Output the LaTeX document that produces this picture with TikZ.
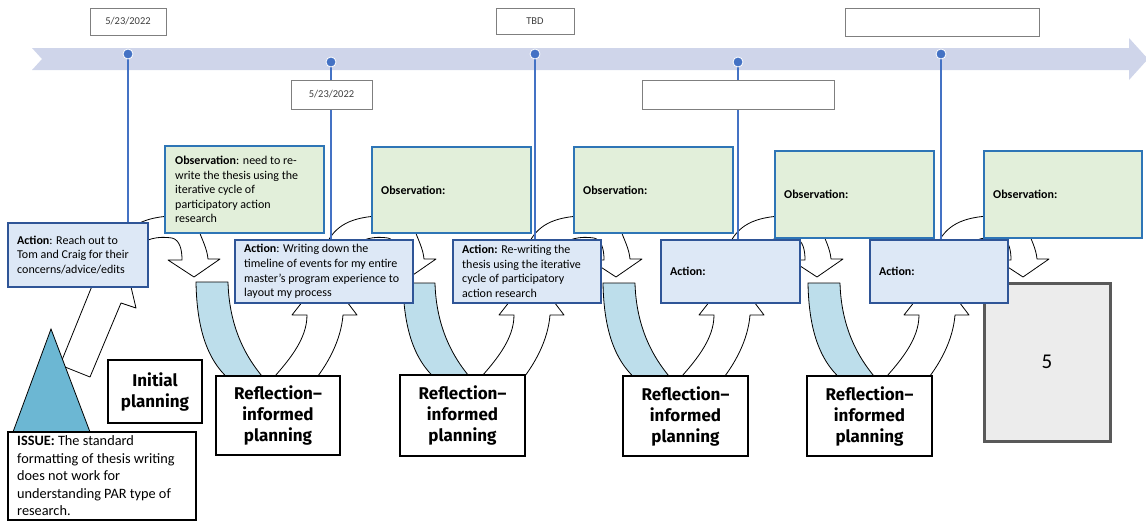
\documentclass[tikz,border=0pt]{standalone}
\usepackage{fontspec}
\setmainfont{Carlito}
\newfontfamily\reflfont{Fira Sans}
\pgfdeclarelayer{bg}
\pgfsetlayers{bg,main}

\definecolor{band}{RGB}{207,213,234}
\definecolor{tlblue}{RGB}{68,114,196}
\definecolor{obsfill}{RGB}{226,239,218}
\definecolor{obsline}{RGB}{46,117,182}
\definecolor{actfill}{RGB}{221,232,246}
\definecolor{actline}{RGB}{47,85,151}
\definecolor{arrowblue}{RGB}{189,222,235}
\definecolor{trifill}{RGB}{108,183,211}
\definecolor{greyfill}{RGB}{236,236,236}
\definecolor{greyline}{RGB}{89,89,89}
\definecolor{labelline}{RGB}{127,127,127}
\definecolor{labeltext}{RGB}{64,64,64}

% curved arrow heading down out of an observation, tip at x = #1
\newcommand\PARdown[1]{%
  \filldraw[blockarrow] ({#1-60},250) .. controls ({#1-50},238) and ({#1-35},236) .. ({#1-22},238)
    .. controls ({#1-14},240) and ({#1-12},250) .. ({#1-12},260) -- ({#1-26},260) -- (#1,277)
    -- ({#1+26},259) -- ({#1+14},259) .. controls ({#1+13},248) and ({#1+8},240) .. ({#1+4},228);}
% arc rising from an action into the observation whose left edge is at x = #1
\newcommand\PARarc[1]{%
  \draw[arrowedge] ({#1-48},250) .. controls ({#1-40},228) and ({#1-25},218) .. ({#1+5},216);}
% blue reflection arrow, top left corner at (#1,#2)
\newcommand\PARblue[2]{%
  \filldraw[reflarrow] (#1,#2) -- ({#1+32},#2) .. controls ({#1+33},320) and ({#1+45},355) .. ({#1+74},385)
    -- ({#1+40},385) .. controls ({#1+20},370) and ({#1+1},345) .. (#1,#2) -- cycle;}
% arrow rising from a planning box into the next action
\newcommand\PARup[1]{%
  \filldraw[blockarrow] ({#1+70},386) .. controls ({#1+92},362) and ({#1+111},340) .. ({#1+111},315)
    -- ({#1+96},315) -- ({#1+129},273) -- ({#1+161},315) -- ({#1+147},315)
    .. controls ({#1+145},340) and ({#1+132},365) .. ({#1+114},386) -- cycle;}

\begin{document}
\begin{tikzpicture}[x=1pt,y=-1pt,
  box/.style={inner sep=0pt, outer sep=0pt},
  obsbox/.style={box, draw=obsline, fill=obsfill, line width=2.2pt},
  actbox/.style={box, draw=actline, fill=actfill, line width=2.2pt},
  planbox/.style={box, draw=black, fill=white, line width=1.4pt, align=center,
    font=\reflfont\bfseries\fontsize{17}{21}\selectfont},
  issuebox/.style={box, draw=black, fill=white, line width=2.2pt},
  greybox/.style={box, draw=greyline, fill=greyfill, line width=3pt},
  datebox/.style={box, draw=labelline, fill=white, line width=1pt, text=labeltext,
    font=\fontsize{10.5}{12}\selectfont},
  boxtext/.style={inner sep=0pt, anchor=west, align=left, font=\fontsize{12}{14.6}\selectfont},
  tldot/.style={circle, fill=tlblue, draw=white, line width=0.8pt, minimum size=10pt, inner sep=0pt},
  tlline/.style={draw=tlblue, line width=1.2pt},
  blockarrow/.style={fill=white, draw=black, line width=0.8pt, line join=round},
  arrowedge/.style={draw=black, line width=0.8pt},
  reflarrow/.style={fill=arrowblue, draw=black, line width=0.8pt, line join=round}]

\useasboundingbox (0,0) rectangle (1146,522);

% date labels above and below the timeline
\node[datebox, minimum width=76pt, minimum height=27pt] (l1) at (128,21.5) {5/23/2022};
\node[datebox, minimum width=81pt, minimum height=29pt] (l2) at (331.5,94.5) {5/23/2022};
\node[datebox, minimum width=78pt, minimum height=26pt] (l3) at (535,21) {TBD};
\node[datebox, minimum width=192pt, minimum height=29pt] (l4) at (738,94.5) {};
\node[datebox, minimum width=194pt, minimum height=28pt] (l5) at (942,22) {};

% timeline markers
\node[tldot] (d1) at (128,54) {};
\node[tldot] (d2) at (331,62) {};
\node[tldot] (d3) at (535,54) {};
\node[tldot] (d4) at (738,62) {};
\node[tldot] (d5) at (941,54) {};

% observations
\node[obsbox, minimum width=159pt, minimum height=87pt] (o1) at (244.5,189.5) {};
\node[obsbox, minimum width=159pt, minimum height=86pt] (o2) at (451.5,190) {};
\node[obsbox, minimum width=159pt, minimum height=86pt] (o3) at (653.5,190) {};
\node[obsbox, minimum width=159pt, minimum height=87pt] (o4) at (854.5,194.5) {};
\node[obsbox, minimum width=158pt, minimum height=87pt] (o5) at (1063,194.5) {};
\node[boxtext] (o1t) at ([xshift=10pt]o1.west) {\textbf{Observation}: need to re-\\write the thesis using the\\iterative cycle of\\participatory action\\research};
\node[boxtext] (o2t) at ([xshift=9pt]o2.west) {\textbf{Observation:}};
\node[boxtext] (o3t) at ([xshift=9pt]o3.west) {\textbf{Observation:}};
\node[boxtext] (o4t) at ([xshift=9pt]o4.west) {\textbf{Observation:}};
\node[boxtext] (o5t) at ([xshift=9pt]o5.west) {\textbf{Observation:}};

% the issue that starts the cycle
\filldraw[fill=trifill, draw=black, line width=0.8pt] (51,329) -- (90,432) -- (13,432) -- cycle;
\node[issuebox, minimum width=188pt, minimum height=88pt] (issue) at (102,476) {};
\node[boxtext, font=\fontsize{14.3}{17.5}\selectfont] (issuet) at ([xshift=9pt]issue.west)
  {\textbf{ISSUE:} The standard\\formatting of thesis writing\\does not work for\\understanding PAR type of\\research.};

% planning stages
\node[planbox, minimum width=94pt, minimum height=63pt] (init) at (155,391.5) {Initial\\planning};
\node[planbox, minimum width=124pt, minimum height=79pt] (r1) at (278,415.5) {Reflection–\\informed\\planning};
\node[planbox, minimum width=125pt, minimum height=81pt] (r2) at (462.5,415.5) {Reflection–\\informed\\planning};
\node[planbox, minimum width=125pt, minimum height=80pt] (r3) at (685.5,416) {Reflection–\\informed\\planning};
\node[planbox, minimum width=125pt, minimum height=80pt] (r4) at (869.5,416) {Reflection–\\informed\\planning};
\node[greybox, minimum width=126pt, minimum height=158pt, font=\fontsize{21}{25}\selectfont] (g5) at (1047,362) {5};

% actions
\node[actbox, minimum width=140pt, minimum height=64pt] (a1) at (78,255) {};
\node[actbox, minimum width=178pt, minimum height=63pt] (a2) at (324,271.5) {};
\node[actbox, minimum width=148pt, minimum height=63pt] (a3) at (527,271.5) {};
\node[actbox, minimum width=139pt, minimum height=63pt] (a4) at (730.5,271.5) {};
\node[actbox, minimum width=138pt, minimum height=63pt] (a5) at (939,271.5) {};
\node[boxtext] (a1t) at ([xshift=9pt]a1.west) {\textbf{Action}: Reach out to\\Tom and Craig for their\\concerns/advice/edits};
\node[boxtext] (a2t) at ([xshift=9pt]a2.west) {\textbf{Action}: Writing down the\\timeline of events for my entire\\master's program experience to\\layout my process};
\node[boxtext] (a3t) at ([xshift=9pt]a3.west) {\textbf{Action:} Re-writing the\\thesis using the iterative\\cycle of participatory\\action research};
\node[boxtext] (a4t) at ([xshift=9pt]a4.west) {\textbf{Action:}};
\node[boxtext] (a5t) at ([xshift=9pt]a5.west) {\textbf{Action:}};

\begin{pgfonlayer}{bg}
  % timeline band
  \fill[band] (32,48) -- (1129,48) -- (1129,38) -- (1148,59) -- (1129,80) -- (1129,70)
    -- (32,70) -- (42,59) -- cycle;
  % first step: from the issue up to the first action
  \filldraw[blockarrow] (60,365) -- (90,377) -- (121,303) -- (136,308) -- (123,253)
    -- (78,280) -- (92,286) -- cycle;
  % the cycles of action, observation, reflection and planning
  \PARdown{194}  \PARdown{410}  \PARdown{616}  \PARdown{817}  \PARdown{1023}
  \PARarc{165}   \PARarc{372}   \PARarc{574}   \PARarc{775}   \PARarc{983}
  \PARblue{196}{282} \PARblue{403}{283} \PARblue{603}{283} \PARblue{808}{283}
  \PARup{196}    \PARup{403}    \PARup{603}    \PARup{808}
  % marker stems
  \draw[tlline] (d1) -- (d1 |- a1.north);
  \draw[tlline] (d2) -- (d2 |- a2.north);
  \draw[tlline] (d3) -- (d3 |- a3.north);
  \draw[tlline] (d4) -- (d4 |- a4.north);
  \draw[tlline] (d5) -- (d5 |- a5.north);
\end{pgfonlayer}
\end{tikzpicture}
\end{document}
